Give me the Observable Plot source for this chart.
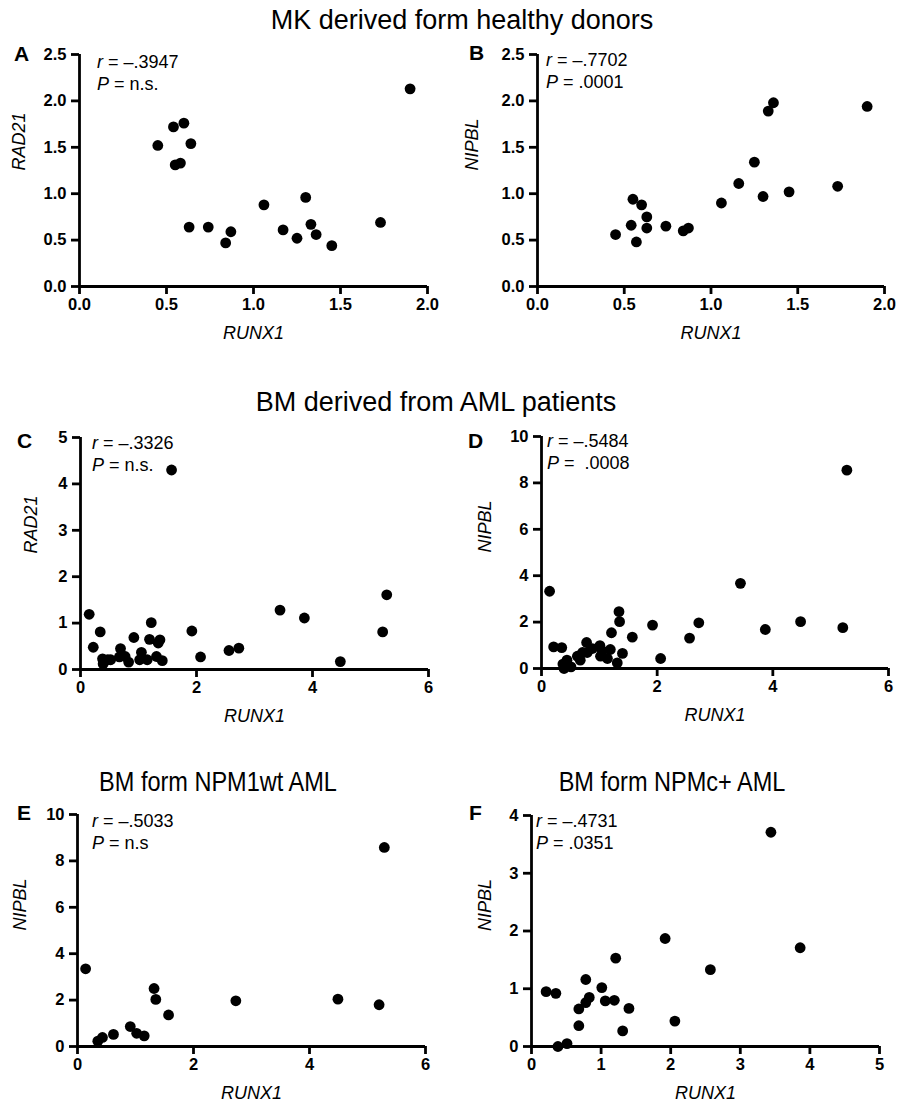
<!DOCTYPE html>
<html>
<head>
<meta charset="utf-8">
<script src="https://cdn.jsdelivr.net/npm/d3@7"></script>
<script src="https://cdn.jsdelivr.net/npm/@observablehq/plot@0.6"></script>
<style>
  html, body { margin: 0; padding: 0; background: #fff; }
  #page { position: relative; width: 898px; height: 1111px; overflow: hidden; font-family: "Liberation Sans", Arial, sans-serif; color: #000; }
  .abs { position: absolute; white-space: pre; line-height: 1; }
  .title { font-size: 27px; text-align: center; width: 600px; }
  .narrow { transform: scaleX(0.84); transform-origin: 50% 50%; font-size: 28px; }
  .letter { font-size: 21px; font-weight: bold; }
  .note { font-size: 18px; line-height: 22px; }
  .panel { position: absolute; }
  .panel svg { overflow: visible; }
</style>
</head>
<body>
<div id="page"></div>
<script>
// ---- Data ----
// A: MK derived from healthy donors, RUNX1 vs RAD21
const mkRunx1A = [0.45, 0.54, 0.60, 0.64, 0.55, 0.58, 0.63, 0.74, 0.84, 0.87, 1.06, 1.17, 1.25, 1.30, 1.33, 1.36, 1.45, 1.73, 1.90];
const mkRad21  = [1.52, 1.72, 1.76, 1.54, 1.31, 1.33, 0.64, 0.64, 0.47, 0.59, 0.88, 0.61, 0.52, 0.96, 0.67, 0.56, 0.44, 0.69, 2.13];
// B: MK derived from healthy donors, RUNX1 vs NIPBL
const mkRunx1B = [0.45, 0.54, 0.55, 0.57, 0.60, 0.63, 0.63, 0.74, 0.84, 0.87, 1.06, 1.16, 1.25, 1.30, 1.33, 1.36, 1.45, 1.73, 1.90];
const mkNipbl  = [0.56, 0.66, 0.94, 0.48, 0.88, 0.75, 0.63, 0.65, 0.60, 0.63, 0.90, 1.11, 1.34, 0.97, 1.89, 1.98, 1.02, 1.08, 1.94];
// C: BM derived from AML patients, RUNX1 vs RAD21
const amlRunx1C = [0.15, 0.22, 0.34, 0.38, 0.39, 0.47, 0.52, 0.67, 0.69, 0.77, 0.83, 0.92, 1.02, 1.05, 1.15, 1.22, 1.19, 1.31, 1.34, 1.37, 1.41, 1.57, 1.92, 2.07, 2.56, 2.73, 3.44, 3.86, 4.48, 5.21, 5.28];
const amlRad21  = [1.19, 0.48, 0.81, 0.23, 0.12, 0.21, 0.21, 0.27, 0.45, 0.28, 0.16, 0.69, 0.21, 0.37, 0.21, 1.01, 0.65, 0.28, 0.57, 0.64, 0.19, 4.30, 0.83, 0.27, 0.41, 0.46, 1.28, 1.11, 0.17, 0.81, 1.61];
// D: BM derived from AML patients, RUNX1 vs NIPBL
const amlRunx1D = [0.14, 0.21, 0.35, 0.37, 0.39, 0.44, 0.51, 0.62, 0.67, 0.71, 0.78, 0.79, 0.88, 1.01, 1.02, 1.05, 1.14, 1.19, 1.21, 1.31, 1.34, 1.35, 1.40, 1.57, 1.92, 2.06, 2.56, 2.72, 3.44, 3.87, 4.48, 5.21, 5.28];
const amlNipblD = [3.33, 0.93, 0.90, 0.19, 0.00, 0.36, 0.07, 0.53, 0.36, 0.69, 1.12, 0.69, 0.86, 0.99, 0.53, 0.76, 0.43, 0.82, 1.54, 0.24, 2.45, 2.02, 0.65, 1.35, 1.87, 0.43, 1.31, 1.97, 3.67, 1.68, 2.02, 1.76, 8.55];
// E: BM from NPM1wt AML, RUNX1 vs NIPBL
const wtRunx1 = [0.14, 0.35, 0.43, 0.62, 0.91, 1.02, 1.15, 1.32, 1.35, 1.57, 2.73, 4.49, 5.20, 5.29];
const wtNipbl = [3.35, 0.23, 0.39, 0.52, 0.86, 0.57, 0.46, 2.50, 2.03, 1.36, 1.97, 2.04, 1.80, 8.58];
// F: BM from NPMc+ AML, RUNX1 vs NIPBL
const mutRunx1 = [0.21, 0.35, 0.38, 0.51, 0.68, 0.68, 0.78, 0.78, 0.83, 1.01, 1.06, 1.19, 1.21, 1.31, 1.40, 1.92, 2.06, 2.57, 3.44, 3.86];
const mutNipbl = [0.95, 0.92, 0.00, 0.05, 0.36, 0.65, 1.16, 0.76, 0.85, 1.02, 0.79, 0.80, 1.53, 0.27, 0.66, 1.87, 0.44, 1.33, 3.71, 1.71];

// Tick values
const ticksMKx = [0, 0.5, 1.0, 1.5, 2.0];
const ticksMKy = [0, 0.5, 1.0, 1.5, 2.0, 2.5];
const ticksAMLx = [0, 2, 4, 6];
const ticksC_y = [0, 1, 2, 3, 4, 5];
const ticksNIPBLy = [0, 2, 4, 6, 8, 10];
const ticksFx = [0, 1, 2, 3, 4, 5];
const ticksFy = [0, 1, 2, 3, 4];

// Titles / labels
const titles = ["MK derived form healthy donors", "BM derived from AML patients", "BM form NPM1wt AML", "BM form NPMc+ AML"];
const letters = ["A", "B", "C", "D", "E", "F"];
const rValues = ["–.3947", "–.7702", "–.3326", "–.5484", "–.5033", "–.4731"];
const pValues = ["n.s.", ".0001", "n.s.", " .0008", "n.s", ".0351"];
const yLabels = ["RAD21", "NIPBL", "RAD21", "NIPBL", "NIPBL", "NIPBL"];

const zip = (xs, ys) => xs.map((x, i) => ({x, y: ys[i]}));
const f1 = d3.format(".1f");
const f0 = d3.format("d");

// layout (page coordinates)
const panels = [
  {data: zip(mkRunx1A, mkRad21), xd: [0, 2], yd: [0, 2.5], xt: ticksMKx, yt: ticksMKy, fmt: f1,
   left: 0, top: 40, w: 450, h: 320, ml: 79, mr: 23, mt: 14, mb: 74, yOff: 60,
   letter: [14, 43], note: [97, 51]},
  {data: zip(mkRunx1B, mkNipbl), xd: [0, 2], yd: [0, 2.5], xt: ticksMKx, yt: ticksMKy, fmt: f1,
   left: 450, top: 40, w: 448, h: 320, ml: 87, mr: 14, mt: 14, mb: 74, yOff: 65,
   letter: [469, 42], note: [546, 49]},
  {data: zip(amlRunx1C, amlRad21), xd: [0, 6], yd: [0, 5], xt: ticksAMLx, yt: ticksC_y, fmt: f0,
   left: 0, top: 400, w: 450, h: 330, ml: 80, mr: 22, mt: 37, mb: 61, yOff: 49,
   letter: [17, 430], note: [92, 432]},
  {data: zip(amlRunx1D, amlNipblD), xd: [0, 6], yd: [0, 10], xt: ticksAMLx, yt: ticksNIPBLy, fmt: f0,
   left: 450, top: 400, w: 448, h: 330, ml: 91, mr: 10, mt: 36, mb: 62, yOff: 56,
   letter: [468, 430], note: [547, 430]},
  {data: zip(wtRunx1, wtNipbl), xd: [0, 6], yd: [0, 10], xt: ticksAMLx, yt: ticksNIPBLy, fmt: f0,
   left: 0, top: 800, w: 450, h: 311, ml: 77, mr: 25, mt: 14, mb: 65, yOff: 57,
   letter: [17, 802], note: [92, 810]},
  {data: zip(mutRunx1, mutNipbl), xd: [0, 5], yd: [0, 4], xt: ticksFx, yt: ticksFy, fmt: f0,
   left: 450, top: 800, w: 448, h: 311, ml: 81, mr: 19, mt: 15, mb: 65, yOff: 46,
   letter: [469, 802], note: [536, 810]}
];

const page = document.getElementById("page");
const FONT = "'Liberation Sans', Arial, sans-serif";

panels.forEach((p, i) => {
  const chart = Plot.plot({
    width: p.w, height: p.h,
    marginLeft: p.ml, marginRight: p.mr, marginTop: p.mt, marginBottom: p.mb,
    style: {fontFamily: FONT, fontSize: "16px", fontWeight: "bold", color: "#000", background: "transparent", overflow: "visible"},
    x: {domain: p.xd},
    y: {domain: p.yd},
    marks: [
      Plot.axisX({ticks: p.xt, tickFormat: p.fmt, tickSize: 8, tickPadding: 4, strokeWidth: 2.8,
                  fontSize: 16.5, fontWeight: "bold", label: null}),
      Plot.axisY({ticks: p.yt, tickFormat: p.fmt, tickSize: 8, tickPadding: 5, strokeWidth: 2.8,
                  fontSize: 16.5, fontWeight: "bold", label: null}),
      Plot.ruleY([0], {stroke: "#000", strokeWidth: 2.8}),
      Plot.ruleX([0], {stroke: "#000", strokeWidth: 2.8}),
      Plot.dot(p.data, {x: "x", y: "y", r: 5.4, fill: "#000", stroke: "none"}),
      Plot.text(["RUNX1"], {text: d => d, frameAnchor: "bottom", dy: 52, fontSize: 18,
                            fontStyle: "italic", fontWeight: "normal", fill: "#000"}),
      Plot.text([yLabels[i]], {text: d => d, frameAnchor: "left", dx: -p.yOff, rotate: -90, fontSize: 18,
                               fontStyle: "italic", fontWeight: "normal", fill: "#000"})
    ]
  });
  const holder = document.createElement("div");
  holder.className = "panel";
  holder.style.left = p.left + "px";
  holder.style.top = p.top + "px";
  holder.appendChild(chart);
  page.appendChild(holder);

  const L = document.createElement("div");
  L.className = "abs letter";
  L.style.left = p.letter[0] + "px";
  L.style.top = p.letter[1] + "px";
  L.textContent = letters[i];
  page.appendChild(L);

  const N = document.createElement("div");
  N.className = "abs note";
  N.style.left = p.note[0] + "px";
  N.style.top = p.note[1] + "px";
  N.innerHTML = "<i>r</i> = " + rValues[i] + "<br><i>P</i> = " + pValues[i];
  page.appendChild(N);
});

// Titles
const titleSpecs = [
  {cx: 462, top: 7, cls: "title"},
  {cx: 436, top: 389, cls: "title"},
  {cx: 218, top: 768, cls: "title narrow"},
  {cx: 672, top: 768, cls: "title narrow"}
];
titleSpecs.forEach((t, i) => {
  const d = document.createElement("div");
  d.className = "abs " + t.cls;
  d.style.left = (t.cx - 300) + "px";
  d.style.top = t.top + "px";
  d.textContent = titles[i];
  page.appendChild(d);
});
</script>
</body>
</html>
